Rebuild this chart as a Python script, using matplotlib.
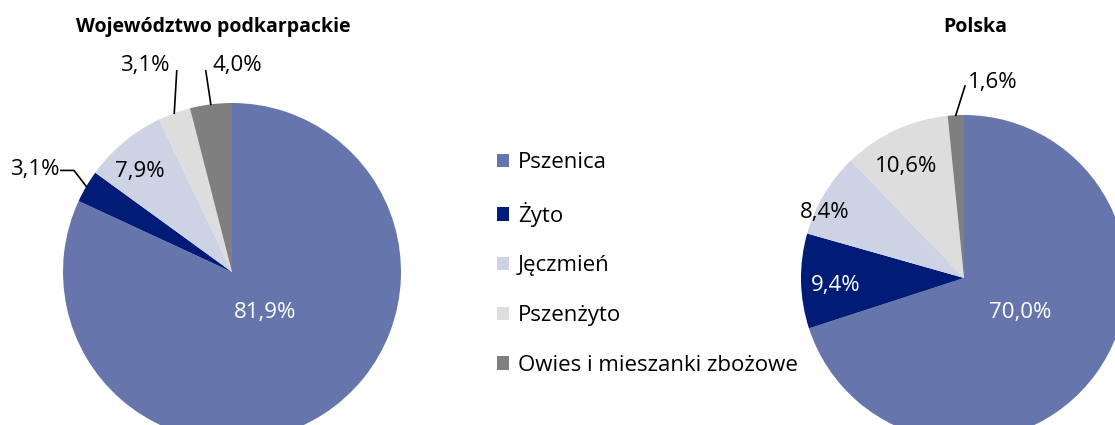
import numpy as np
import matplotlib
matplotlib.use("Agg")
import matplotlib.pyplot as plt
from matplotlib.patches import Patch

plt.rcParams['font.family'] = ['Open Sans', 'DejaVu Sans']

# dane
categories = ['Pszenica', 'Żyto', 'Jęczmień', 'Pszenżyto', 'Owies i mieszanki zbożowe']
podkarpackie = [81.9, 3.1, 7.9, 3.1, 4.0]
polska = [70.0, 9.4, 8.4, 10.6, 1.6]
titles = ['Województwo podkarpackie', 'Polska']
colors = ['#6676ad', '#001c77', '#cdd2e4', '#dddddd', '#7f7f7f']

W, H = 1115, 425
SPAN = 1.45
fig = plt.figure(figsize=(W / 100, H / 100), dpi=100)


def pie_axes(cx, cy, r):
    # os umieszczona tak, by srodek kola byl w (cx, cy) px, promien r px
    s = SPAN * r
    return fig.add_axes([(cx - s) / W, (H - cy - s) / H, 2 * s / W, 2 * s / H])


def finish(ax):
    ax.set_xlim(-SPAN, SPAN)
    ax.set_ylim(-SPAN, SPAN)
    ax.set_aspect('auto')
    ax.axis('off')


def mid_angles(vals):
    # katy srodkow wycinkow (start 90, zgodnie z ruchem wskazowek)
    c = np.cumsum([0] + list(vals))
    return [np.deg2rad(90 - 3.6 * (c[i] + c[i + 1]) / 2) for i in range(len(vals))]


def fmt(v):
    return f"{v:.1f}%".replace('.', ',')


FS = 16

# --- lewy wykres ---
ax1 = pie_axes(232, 272, 169)
ax1.pie(podkarpackie, colors=colors, startangle=90, counterclock=False,
        radius=1, wedgeprops=dict(linewidth=0))
finish(ax1)
ang = mid_angles(podkarpackie)
# etykiety wewnatrz
ax1.text(0.196, -0.238, fmt(podkarpackie[0]), color='white', fontsize=FS, ha='center', va='center')
ax1.text(-0.548, 0.595, fmt(podkarpackie[2]), color='black', fontsize=FS, ha='center', va='center')
# Zyto - linia z kolankiem
a = ang[1]
ax1.plot([np.cos(a), -0.935, -1.012], [np.sin(a), 0.601, 0.601], color='black', lw=1.2, clip_on=False)
ax1.text(-1.165, 0.607, fmt(podkarpackie[1]), fontsize=FS, ha='center', va='center')
# Pszenzyto
a = ang[3]
ax1.plot([np.cos(a), -0.327], [np.sin(a), 1.19], color='black', lw=1.2, clip_on=False)
ax1.text(-0.518, 1.22, fmt(podkarpackie[3]), fontsize=FS, ha='center', va='center')
# Owies
a = ang[4]
ax1.plot([np.cos(a), -0.155], [np.sin(a), 1.19], color='black', lw=1.2, clip_on=False)
ax1.text(0.03, 1.22, fmt(podkarpackie[4]), fontsize=FS, ha='center', va='center')

# --- prawy wykres ---
ax2 = pie_axes(964, 278, 163)
ax2.pie(polska, colors=colors, startangle=90, counterclock=False,
        radius=1, wedgeprops=dict(linewidth=0))
finish(ax2)
ang = mid_angles(polska)
ax2.text(0.344, -0.209, fmt(polska[0]), color='white', fontsize=FS, ha='center', va='center')
ax2.text(-0.785, -0.043, fmt(polska[1]), color='white', fontsize=FS, ha='center', va='center')
ax2.text(-0.853, 0.399, fmt(polska[2]), color='black', fontsize=FS, ha='center', va='center')
ax2.text(-0.356, 0.681, fmt(polska[3]), color='black', fontsize=FS, ha='center', va='center')
a = ang[4]
ax2.plot([np.cos(a), 0.006], [np.sin(a), 1.178], color='black', lw=1.2, clip_on=False)
ax2.text(0.175, 1.202, fmt(polska[4]), fontsize=FS, ha='center', va='center')

# tytuly
fig.text(213 / W, 1 - 27 / H, titles[0], fontsize=14, fontweight='bold', ha='center', va='center')
fig.text(975 / W, 1 - 27 / H, titles[1], fontsize=14, fontweight='bold', ha='center', va='center')

# legenda
handles = [Patch(facecolor=c, edgecolor='none') for c in colors]
fig.legend(handles, categories, loc='center left', bbox_to_anchor=(477 / W, 1 - 264 / H),
           frameon=False, fontsize=FS, handlelength=0.55, handleheight=0.55,
           handletextpad=0.4, labelspacing=1.29)

fig.savefig('out.png', dpi=100)
